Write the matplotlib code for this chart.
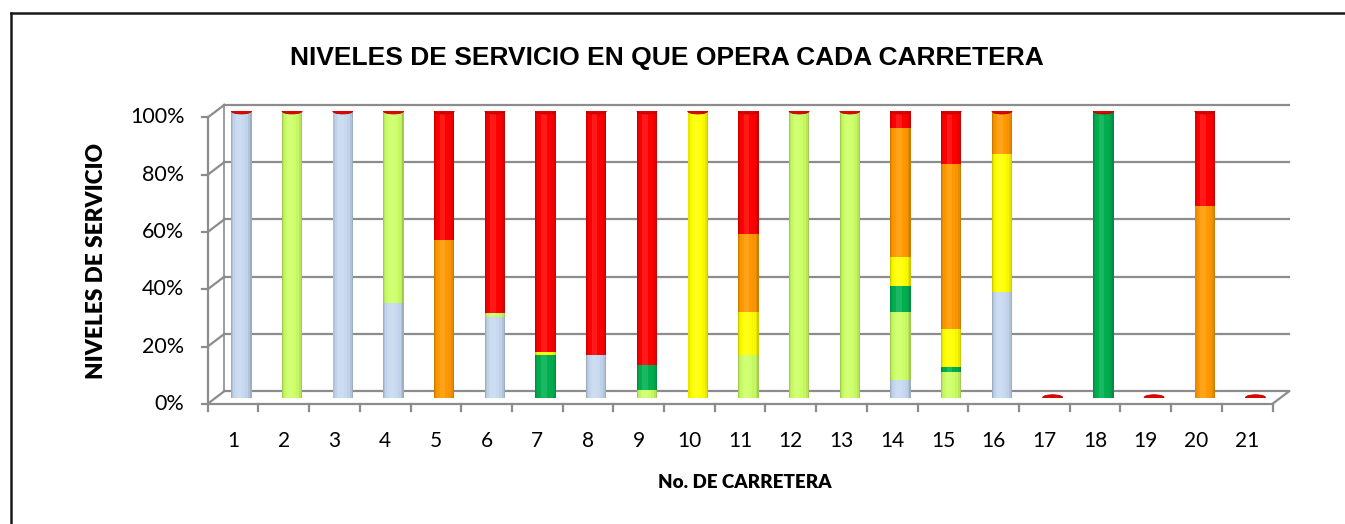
import numpy as np
import matplotlib
matplotlib.use("Agg")
import matplotlib.pyplot as plt
from matplotlib.patches import Ellipse
from matplotlib.lines import Line2D
from matplotlib.colors import to_rgb

# data: percentage of each road operating at each level of service
carreteras = list(range(1, 22))
nivel_a = [100, 0, 100, 33, 0, 28, 0, 15, 0, 0, 0, 0, 0, 6, 0, 37, 0, 0, 0, 0, 0]
nivel_b = [0, 100, 0, 67, 0, 1.5, 0, 0, 2.5, 0, 15, 100, 100, 24, 9, 0, 0, 0, 0, 0, 0]
nivel_c = [0, 0, 0, 0, 0, 0, 15, 0, 9, 0, 0, 0, 0, 9, 1.5, 0, 0, 100, 0, 0, 0]
nivel_d = [0, 0, 0, 0, 0, 0, 1, 0, 0, 100, 15, 0, 0, 10, 13.5, 48, 0, 0, 0, 0, 0]
nivel_e = [0, 0, 0, 0, 55, 0, 0, 0, 0, 0, 27, 0, 0, 45, 57.5, 15, 0, 0, 0, 67, 0]
nivel_f = [0, 0, 0, 0, 45, 70.5, 84, 85, 88.5, 0, 43, 0, 0, 6, 18.5, 0, 0, 0, 0, 33, 0]
y_ticks = [0, 20, 40, 60, 80, 100]

series = [nivel_a, nivel_b, nivel_c, nivel_d, nivel_e, nivel_f]
colores = ["#C6D9F1", "#CCFF66", "#00B050", "#FFFF00", "#FF9900", "#FF0000"]

GRID = "#8C8C8C"
DX, DY = 0.164, 2.2   # depth offset of the 3d box, in data units
W = 0.4


def shade(c, f):
    r = np.array(to_rgb(c))
    if f <= 1:
        return tuple(r * f)
    return tuple(r + (1 - r) * (f - 1))


fig = plt.figure(figsize=(13.45, 5.24), dpi=100)
ax = fig.add_axes([0.1606, 0.2414, 0.7917, 0.5464])
ax.set_xlim(0.5, 21.5)
ax.set_ylim(0, 100)
ax.axis("off")

x = np.array(carreteras, dtype=float)
n = len(x)

# back wall gridlines, left wall diagonals
for t in y_ticks:
    ax.plot([0.5 + DX, 21.5 + DX], [t + DY, t + DY], color=GRID, lw=1.6, zorder=1, clip_on=False)
    ax.plot([0.5 - DX, 0.5 + DX], [t - DY, t + DY], color=GRID, lw=1.6, zorder=1, clip_on=False)
    ax.plot([0.5 - DX - 0.12, 0.5 - DX], [t - DY, t - DY], color=GRID, lw=1.6, clip_on=False)
    ax.text(0.5 - DX - 0.46, t - DY, f"{t}%", ha="right", va="center",
            fontsize=15.5, family="Lato", clip_on=False)
ax.plot([0.5 + DX, 0.5 + DX], [DY, 100 + DY], color=GRID, lw=1.2, zorder=1, clip_on=False)
ax.plot([0.5 - DX, 0.5 - DX], [-DY, 100 - DY], color=GRID, lw=1.6, zorder=1, clip_on=False)
# floor
ax.plot([0.5 - DX, 21.5 - DX], [-DY, -DY], color=GRID, lw=1.6, zorder=1, clip_on=False)
ax.plot([21.5 - DX, 21.5 + DX], [-DY, DY], color=GRID, lw=1.6, zorder=1, clip_on=False)
for k in range(n + 1):
    ax.plot([k + 0.5 - DX] * 2, [-DY, -DY - 2.4], color=GRID, lw=1.6, clip_on=False)
for xi in carreteras:
    ax.text(xi - DX, -DY - 12.9, str(xi), ha="center", va="center",
            fontsize=15, family="Lato", clip_on=False)

# bottom caps of the cylinders
bottom = np.zeros(n)
for i in range(n):
    for s, c in zip(series, colores):
        if s[i] > 0:
            ax.add_patch(Ellipse((x[i], 0), W * 0.98, 1.8, color=shade(c, 0.88), zorder=2.5, lw=0))
            break

# stacked cylinders drawn as layered bars for the shading
for s, c in zip(series, colores):
    vals = np.array(s, dtype=float)
    for frac, f, sh in [(1.0, 0.8, 0), (0.9, 0.9, -0.004), (0.75, 0.97, -0.01),
                        (0.5, 1.0, -0.02), (0.28, 1.1, -0.035)]:
        ax.bar(x + sh, vals, width=W * frac, bottom=bottom, color=shade(c, f),
               lw=0, zorder=3)
    bottom += vals

# top caps
for i in range(n):
    ax.add_patch(Ellipse((x[i], bottom[i]), W * 0.98, 1.9, fc="#E00000", ec="#B00000",
                         lw=0.6, zorder=4))

fig.text(667 / 1345, 1 - 58 / 524, "NIVELES DE SERVICIO EN QUE OPERA CADA CARRETERA",
         ha="center", va="center", fontsize=19, fontweight="bold", family="Liberation Sans")
fig.text(96.7 / 1345, 1 - 261 / 524, "NIVELES DE SERVICIO", rotation=90, ha="center",
         va="center", fontsize=16.3, fontweight="heavy", family="Lato")
fig.text(745 / 1345, 1 - 482 / 524, "No. DE CARRETERA", ha="center", va="center",
         fontsize=13.5, fontweight="heavy", family="Lato")

# chart border
fig.add_artist(Line2D([11 / 1345, 1], [1 - 13 / 524] * 2, color="#1a1a1a", lw=1.8,
                      transform=fig.transFigure))
fig.add_artist(Line2D([11 / 1345] * 2, [0, 1 - 13 / 524], color="#1a1a1a", lw=1.8,
                      transform=fig.transFigure))

fig.savefig("out.png", dpi=100)
